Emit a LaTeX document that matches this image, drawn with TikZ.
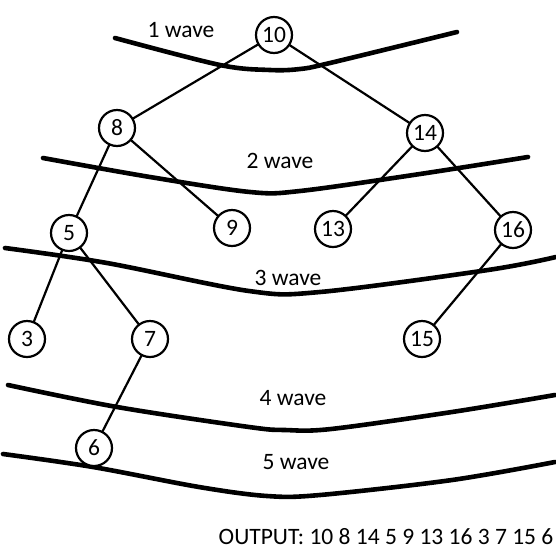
\documentclass[tikz,border=0pt]{standalone}
\usepackage{fontspec}
\setmainfont{Carlito}
\begin{document}
\begin{tikzpicture}[x=1pt,y=-1pt,
  tn/.style={circle,draw,line width=2.2pt,fill=white,minimum size=36pt,inner sep=0pt,font=\fontsize{23.5}{26}\selectfont},
  edge/.style={line width=2.2pt},
  wave/.style={line width=4.6pt,line cap=round},
  lbl/.style={anchor=base,inner sep=0pt,font=\fontsize{23.5}{26}\selectfont}]
\useasboundingbox[fill=white] (0,0) rectangle (556,555);
% waves
\draw[wave] plot[smooth,tension=0.55] coordinates {(115,38) (220,65) (270,70) (300,69) (330,63) (457,32)};
\draw[wave] plot[smooth,tension=0.55] coordinates {(43,158) (150,177) (250,192) (300,191) (420,174) (528,157)};
\draw[wave] plot[smooth,tension=0.55] coordinates {(5,248) (107,263) (249,291) (320,292) (488,270) (556,257)};
\draw[wave] plot[smooth,tension=0.55] coordinates {(8,385) (117,407) (249,427) (285,430) (331,429) (452,412) (555,395)};
\draw[wave] plot[smooth,tension=0.55] coordinates {(3,454) (93,467) (199,487) (267,496) (320,495) (452,480) (555,462)};
% labels
\node[lbl] (w1) at (181,37) {1 wave};
\node[lbl] (w2) at (280,168) {2 wave};
\node[lbl] (w3) at (288,285) {3 wave};
\node[lbl] (w4) at (293,405) {4 wave};
\node[lbl] (w5) at (296,469) {5 wave};
\node[lbl] (out) at (386,544) {OUTPUT: 10 8 14 5 9 13 16 3 7 15 6};
% nodes
\coordinate (c10) at (274,35);
\coordinate (c8) at (117,128);
\coordinate (c14) at (425,133);
\coordinate (c5) at (69,233);
\coordinate (c9) at (232,228);
\coordinate (c13) at (333,229);
\coordinate (c16) at (513,230);
\coordinate (c3) at (27,339);
\coordinate (c7) at (150,339);
\coordinate (c15) at (422,339);
\coordinate (c6) at (94,448);
\draw[edge] (c10)--(c8) (c10)--(c14) (c8)--(c5) (c8)--(c9) (c14)--(c13) (c14)--(c16)
  (c5)--(c3) (c5)--(c7) (c16)--(c15) (c7)--(c6);
\node[tn] (n10) at (c10) {10};
\node[tn] (n8) at (c8) {8};
\node[tn] (n14) at (c14) {14};
\node[tn] (n5) at (c5) {5};
\node[tn] (n9) at (c9) {9};
\node[tn] (n13) at (c13) {13};
\node[tn] (n16) at (c16) {16};
\node[tn] (n3) at (c3) {3};
\node[tn] (n7) at (c7) {7};
\node[tn] (n15) at (c15) {15};
\node[tn] (n6) at (c6) {6};
\end{tikzpicture}
\end{document}
